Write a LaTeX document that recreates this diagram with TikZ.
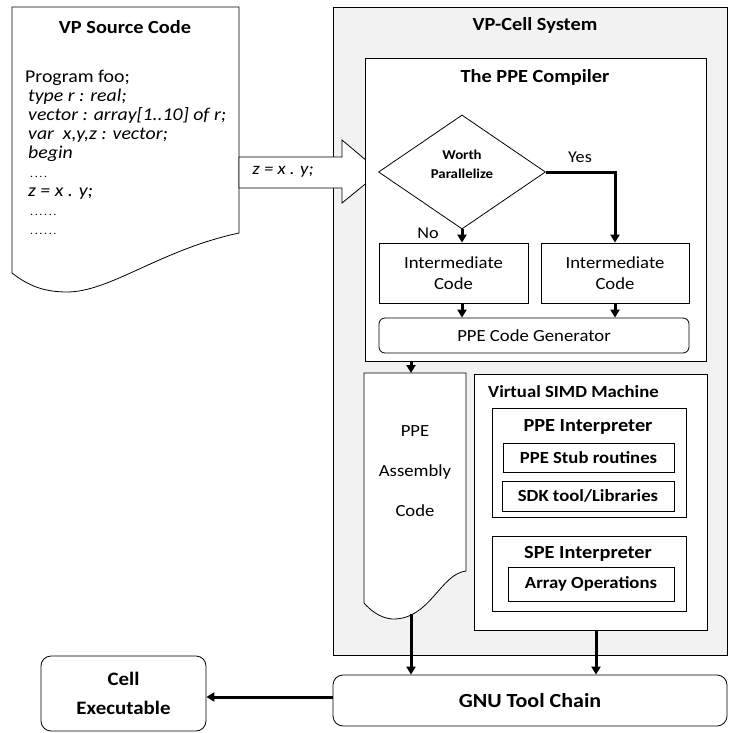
\documentclass[tikz,border=0pt]{standalone}
\usepackage{fontspec}
\setmainfont{Carlito}[FakeStretch=1.1]
\usetikzlibrary{arrows.meta,shapes.geometric}
\definecolor{sysgray}{HTML}{F2F2F2}
\newcommand{\fsz}[2]{\fontsize{#1}{#2}\selectfont}
\newcommand{\smalldots}[1]{{\fsz{11}{19}\foreach \i in {1,...,#1}{.\kern1.6pt}}}
\begin{document}
\begin{tikzpicture}[x=1pt,y=-1pt,
  box/.style={draw, line width=0.8pt, inner sep=0pt, fill=white},
  rbox/.style={box, rounded corners=8pt},
  conn/.style={line width=3pt, -{Triangle[length=8pt,width=9pt]}},
  titlebf/.style={font=\fsz{18.5}{20}\bfseries, inner sep=0pt},
  plain/.style={font=\fsz{17}{21}, inner sep=0pt, align=center},
  subbf/.style={font=\fsz{17}{20}\bfseries, inner sep=0pt}]
\useasboundingbox (0,0) rectangle (729,733);

% ---------- VP Source Code document ----------
\node[inner sep=0pt, minimum width=227pt, minimum height=266pt] (src) at (125.5,140) {};
\draw[line width=0.8pt, fill=white] (12,7) -- (239,7) -- (239,233)
  .. controls (160,250) and (110,292) .. (67,292)
  .. controls (40,292) and (25,283) .. (12,273) -- cycle;
\node[titlebf] (srctitle) at (125,27) {VP Source Code};
\node[inner sep=0pt, anchor=north west, align=left, font=\fsz{18}{19}] (code) at (25,70)
 {Program foo;\\
  \hspace{3pt}\textit{type r : real;}\\
  \hspace{3pt}\textit{vector : array[1..10] of r;}\\
  \hspace{3pt}\textit{var\ \ x,y,z : vector;}\\
  \hspace{3pt}\textit{begin}\\
  \hspace{5pt}\smalldots{4}\\
  \hspace{3pt}\textit{z = x . y;}\\
  \hspace{5pt}\smalldots{6}\\
  \hspace{5pt}\smalldots{6}};

% ---------- VP-Cell System ----------
\node[box, fill=sysgray, minimum width=394pt, minimum height=648pt] (sys) at (530,331) {};
\node[titlebf] (systitle) at (535,25) {VP-Cell System};

% ---------- block arrow ----------
\draw[line width=0.8pt, fill=white] (239,157) -- (342,157) -- (342,140) -- (380,172)
  -- (342,203) -- (342,188) -- (239,188) -- cycle;
\node[inner sep=0pt, font=\fsz{17}{20}\itshape] (flow) at (283,172) {z = x . y;};

% ---------- PPE Compiler ----------
\node[box, minimum width=341pt, minimum height=303pt] (comp) at (535.5,209.5) {};
\node[titlebf] (comptitle) at (535,77) {The PPE Compiler};
\node[draw, diamond, line width=0.8pt, inner sep=0pt, minimum width=167pt, minimum height=114pt] (dec) at (462,172) {};
\node[inner sep=0pt, align=center, font=\fsz{13.5}{19}\bfseries] (dectext) at (462,164) {Worth\\Parallelize};
\node[inner sep=0pt, font=\fsz{16.5}{20}] (yes) at (580,157) {Yes};
\node[inner sep=0pt, font=\fsz{16.5}{20}] (no) at (428,233) {No};
\node[box, plain, minimum width=149pt, minimum height=60pt] (icL) at (453.5,273) {Intermediate\\Code};
\node[box, plain, minimum width=148pt, minimum height=60pt] (icR) at (615,273) {Intermediate\\Code};
\node[rbox, plain, rounded corners=6pt, minimum width=310pt, minimum height=35pt] (gen) at (534,335.5) {PPE Code Generator};

\draw[conn] (dec.south) -- (dec.south |- icL.north);
\draw[conn] (dec.east) -| (icR.north);
\draw[conn] (icL.south -| dec.south) -- (gen.north -| dec.south);
\draw[conn] (icR.south) -- (icR.south |- gen.north);

% ---------- PPE Assembly Code document ----------
\node[inner sep=0pt, minimum width=102pt, minimum height=230pt] (asm) at (415,488) {};
\draw[line width=0.8pt, fill=white] (364,373) -- (466,373) -- (466,571)
  .. controls (440,574) and (430,620) .. (392,619)
  .. controls (380,618) and (370,610) .. (364,603) -- cycle;
\node[inner sep=0pt, align=center, font=\fsz{17}{40}] (asmtext) at (415,471) {PPE\\Assembly\\Code};
\coordinate (asmin) at (411,373);
\coordinate (asmout) at (411,614);
\draw[conn] (comp.south -| asmin) -- (asmin);

% ---------- Virtual SIMD Machine ----------
\node[box, minimum width=233pt, minimum height=256pt] (simd) at (590.5,502) {};
\node[subbf, anchor=west] (simdtitle) at (488,392) {Virtual SIMD Machine};
\node[box, minimum width=194pt, minimum height=109pt] (ppei) at (589,462.5) {};
\node[titlebf] (ppeititle) at (588,427) {PPE Interpreter};
\node[box, subbf, minimum width=171pt, minimum height=29pt] (stub) at (588.5,457.5) {PPE Stub routines};
\node[box, subbf, minimum width=172pt, minimum height=30pt] (sdk) at (588,496) {SDK tool/Libraries};
\node[box, minimum width=194pt, minimum height=75pt] (spei) at (589,573.5) {};
\node[titlebf] (speititle) at (588,554) {SPE Interpreter};
\node[box, subbf, minimum width=166pt, minimum height=34pt] (arr) at (591,584) {Array Operations};

% ---------- GNU Tool Chain and Cell Executable ----------
\node[rbox, rounded corners=10pt, minimum width=394pt, minimum height=51pt, font=\fsz{20}{22}\bfseries] (gnu) at (530,700.5) {GNU Tool Chain};
\node[rbox, rounded corners=10pt, minimum width=165pt, minimum height=75pt, align=center, font=\fsz{19}{29}\bfseries] (cell) at (123.5,693.5) {Cell\\Executable};

\draw[conn] (asmout) -- (asmout |- gnu.north);
\draw[conn] ([xshift=5.5pt]simd.south) -- ([xshift=5.5pt]simd.south |- gnu.north);
\draw[conn] (gnu.west |- 0,697) -- (cell.east |- 0,697);
\end{tikzpicture}
\end{document}
